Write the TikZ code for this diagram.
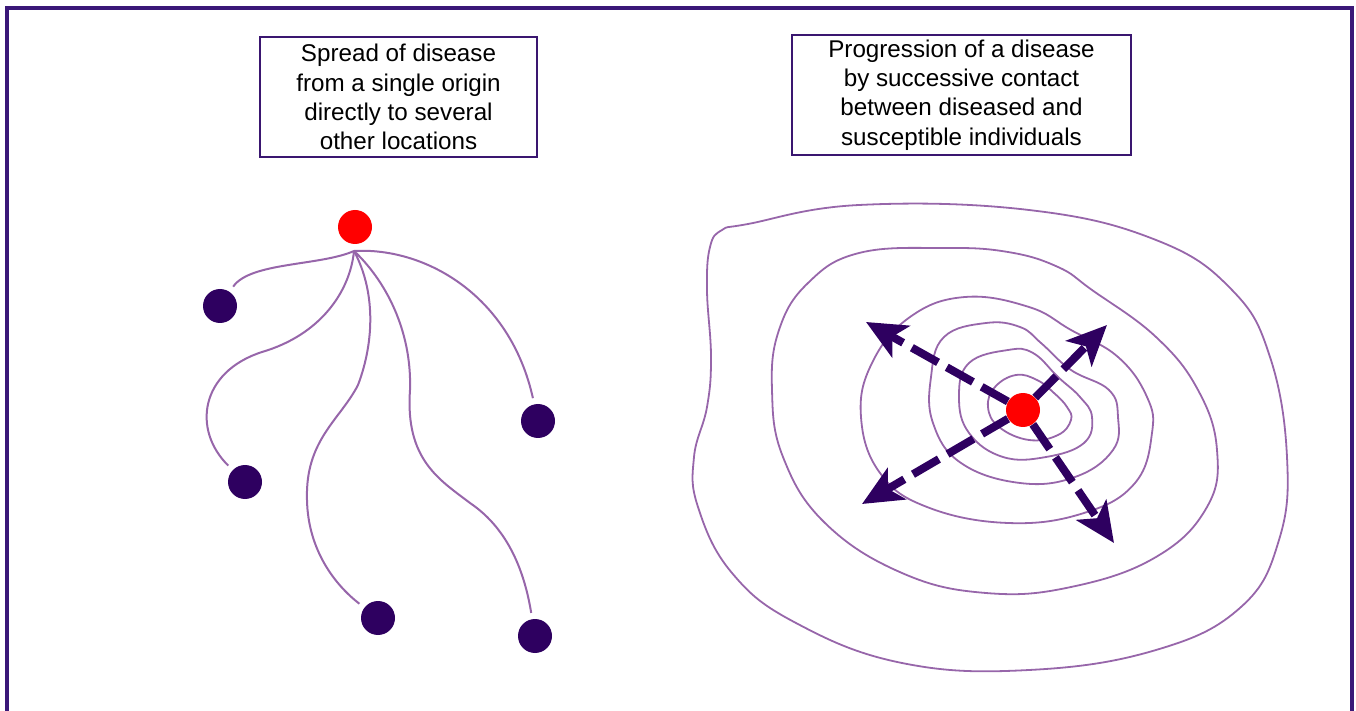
\documentclass[tikz,border=0pt]{standalone}
\usepackage{fontspec}
\setmainfont{Liberation Sans}
\usepackage{xcolor}
\usetikzlibrary{arrows.meta}
\definecolor{FrameInk}{HTML}{3A1878}
\definecolor{BoxInk}{HTML}{3A1670}
\definecolor{HotRed}{HTML}{FF0000}
\definecolor{SiteInk}{HTML}{2E0060}
\definecolor{PenLine}{HTML}{9766AA}

\begin{document}
\begin{tikzpicture}[x=0.5pt,y=-0.5pt,
  textbox/.style={draw=BoxInk,line width=1pt,fill=white,minimum height=60pt,inner sep=0pt,align=center,font=\fontsize{12.1}{14.6}\selectfont},
  hotspot/.style={circle,fill=HotRed,minimum size=17pt,inner sep=0pt},
  site/.style={circle,fill=SiteInk,minimum size=17pt,inner sep=0pt},
  spreadline/.style={draw=PenLine,line width=1pt,shorten >=3pt},
  contour/.style={draw=PenLine,line width=0.9pt},
  wave/.style={draw=SiteInk,line width=4pt,dash pattern=on 15pt off 5pt,-{Stealth[length=20pt,width=18pt,inset=5pt]}}
]
\useasboundingbox (0,0) rectangle (1356,711);
\draw[FrameInk,line width=1.6pt] (7,711) -- (7,8) -- (1352,8) -- (1352,711);

% captions
\node[textbox,minimum width=138.5pt] (spreadBox) at (398.5,97) {Spread of disease\\from a single origin\\directly to several\\other locations};
\node[textbox,minimum width=169.5pt] (progressBox) at (961.5,95) {Progression of a disease\\by successive contact\\between diseased and\\susceptible individuals};

% left: direct spread
\node[hotspot] (origin) at (355,227) {};
\coordinate (hub) at (354,251);
\node[site] (siteA) at (220,306) {};
\node[site] (siteB) at (245,482) {};
\node[site] (siteC) at (538,421) {};
\node[site] (siteD) at (378,618) {};
\node[site] (siteE) at (535,636) {};

\draw[spreadline] (hub) .. controls (320,266) and (250,262) .. (siteA);
\draw[spreadline] (hub) .. controls (350,292) and (320,335) .. (262,352) .. controls (200,372) and (192,430) .. (siteB);
\draw[spreadline] (hub) .. controls (425,247) and (510,295) .. (siteC);
\draw[spreadline] (hub) .. controls (375,290) and (375,340) .. (358,385) .. controls (340,420) and (305,440) .. (307,500) .. controls (308,550) and (335,585) .. (siteD);
\draw[spreadline] (hub) .. controls (385,280) and (412,330) .. (410,390) .. controls (405,460) and (440,480) .. (470,503) .. controls (510,530) and (525,575) .. (siteE);

% right: successive contact
\draw[contour] plot[smooth cycle,tension=0.7] coordinates {(722,230) (748,224) (859,205) (1029,210) (1156,240) (1232,290) (1270,357) (1287,457) (1279,540) (1241,607) (1156,650) (1029,670) (902,663) (796,623) (732,573) (698,507) (694,457) (707,407) (711,357) (707,290) (710,247)};
\draw[contour] plot[smooth cycle,tension=0.7] coordinates {(944,248) (1008,252) (1058,267) (1092,290) (1156,337) (1198,390) (1217,450) (1207,507) (1156,557) (1071,587) (986,593) (902,573) (825,523) (783,457) (772,390) (779,330) (808,283) (859,253)};
\draw[contour] plot[smooth cycle,tension=0.7] coordinates {(965,297) (1029,307) (1071,330) (1118,357) (1147,397) (1152,433) (1135,483) (1084,513) (1008,523) (927,507) (880,473) (861,417) (872,363) (910,317)};
\draw[contour] plot[smooth cycle,tension=0.7] coordinates {(986,323) (1020,327) (1041,343) (1071,370) (1109,390) (1118,417) (1113,450) (1075,477) (1020,483) (961,463) (933,423) (931,377) (944,337)};
\draw[contour] plot[smooth cycle,tension=0.7] coordinates {(1008,350) (1033,353) (1058,377) (1080,397) (1092,417) (1084,443) (1046,457) (1003,457) (969,433) (959,397) (969,363)};
\draw[contour] plot[smooth cycle,tension=0.7] coordinates {(1016,375) (1037,380) (1054,393) (1067,407) (1071,420) (1058,435) (1029,440) (999,427) (988,407) (995,387)};

\node[hotspot] (source) at (1023,410) {};
\coordinate (tipNW) at (866,322);
\coordinate (tipNE) at (1107,325);
\coordinate (tipSW) at (862,504);
\coordinate (tipSE) at (1114,543);
\draw[wave] (source) -- (tipNW);
\draw[wave] (source) -- (tipNE);
\draw[wave] (source) -- (tipSW);
\draw[wave] (source) -- (tipSE);
\end{tikzpicture}
\end{document}
